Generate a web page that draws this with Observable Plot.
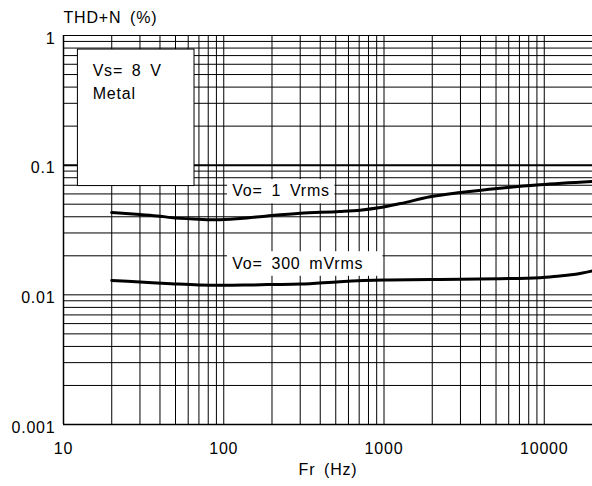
<!DOCTYPE html>
<html>
<head>
<meta charset="utf-8">
<script src="https://cdn.jsdelivr.net/npm/d3@7"></script>
<script src="https://cdn.jsdelivr.net/npm/@observablehq/plot@0.6"></script>
<style>
  html, body { margin: 0; padding: 0; background: #fff; }
  #chart svg { display: block; font-family: "Liberation Sans", Arial, sans-serif; }
</style>
</head>
<body>
<div id="chart"></div>
<script>
// Frequency (Hz) and THD+N (%)
const freq1 = [20, 30, 40, 47, 70, 90, 127, 187, 300, 530, 710, 950, 1270, 1940, 3000, 5300, 9400, 20000];
const thd1  = [0.0431, 0.0416, 0.0404, 0.0394, 0.0383, 0.0379, 0.0388, 0.0406, 0.0426, 0.0439, 0.0450, 0.0471, 0.0506, 0.0570, 0.0615, 0.0665, 0.0706, 0.0748];
const freq2 = [20, 30, 47, 70, 100, 140, 187, 300, 530, 1000, 3000, 5300, 9400, 12500, 15700, 20000];
const thd2  = [0.0129, 0.01256, 0.01219, 0.01191, 0.01183, 0.0119, 0.0120, 0.0121, 0.01263, 0.0130, 0.01318, 0.0133, 0.01355, 0.0140, 0.0144, 0.0153];

const xTicks = [10, 100, 1000, 10000];
const xTickLabels = ["10", "100", "1000", "10000"];
const yTicks = [1, 0.1, 0.01, 0.001];
const yTickLabels = ["1", "0.1", "0.01", "0.001"];
const xTitle = "Fr (Hz)";
const yTitle = "THD+N (%)";
const seriesLabels = ["Vo= 1 Vrms", "Vo= 300 mVrms"];
const legendLines = ["Vs= 8 V", "Metal"];

// grid values (1..9 per decade)
const xGrid = [];
for (const d of [10, 100, 1000, 10000]) for (let m = 1; m <= 9; m++) { const v = m * d; if (v <= 20000) xGrid.push(v); }
xGrid.push(20000);
const yGrid = [];
for (const d of [0.001, 0.01, 0.1]) for (let m = 1; m <= 9; m++) yGrid.push(m * d);
yGrid.push(1);

// annotation anchor positions (data coordinates)
const legendBox = [{x1: 12.3, x2: 65.7, y1: 0.069, y2: 0.779}];
const legendTextPos = [{x: 15.2, y: 0.53}, {x: 15.2, y: 0.356}];
const labelBoxes = [{x1: 105.5, x2: 494, y1: 0.0503, y2: 0.0773}, {x1: 105.5, x2: 985, y1: 0.0139, y2: 0.0215}];
const labelPos = [{x: 113, y: 0.0632}, {x: 113, y: 0.01733}];

const s1 = freq1.map((f, i) => ({f, v: thd1[i]}));
const s2 = freq2.map((f, i) => ({f, v: thd2[i]}));

const fontSize = 16;
const textStyle = {fontSize, fill: "#000", stroke: null};

const chart = Plot.plot({
  width: 592,
  height: 486,
  marginLeft: 63,
  marginRight: 0,
  marginTop: 35,
  marginBottom: 62,
  style: {fontFamily: "Liberation Sans, Arial, sans-serif", fontSize: "16px", letterSpacing: "0.8px", wordSpacing: "3.5px", background: "#fff"},
  x: {type: "log", domain: [10, 20000], axis: null},
  y: {type: "log", domain: [0.001, 1], axis: null},
  marks: [
    Plot.ruleX(xGrid, {x: d => d, stroke: "#000", strokeWidth: 1}),
    Plot.ruleY(yGrid, {y: d => d, stroke: "#000", strokeWidth: d => (Math.abs(d - 0.1) < 1e-9 ? 2 : 1)}),
    Plot.ruleX([10], {x: d => d, stroke: "#000", strokeWidth: 1.5}),
    Plot.ruleY([0.001], {y: d => d, stroke: "#000", strokeWidth: 1.5}),
    Plot.line(s1, {x: "f", y: "v", stroke: "#000", strokeWidth: 3, curve: "monotone-x"}),
    Plot.line(s2, {x: "f", y: "v", stroke: "#000", strokeWidth: 3, curve: "monotone-x"}),
    Plot.rect(legendBox, {x1: "x1", x2: "x2", y1: "y1", y2: "y2", fill: "#fff", stroke: "#000", strokeWidth: 1}),
    Plot.text(legendLines, {x: (d, i) => legendTextPos[i].x, y: (d, i) => legendTextPos[i].y, text: d => d, textAnchor: "start", lineAnchor: "middle", ...textStyle}),
    Plot.rect(labelBoxes, {x1: "x1", x2: "x2", y1: "y1", y2: "y2", fill: "#fff"}),
    Plot.text(seriesLabels, {x: (d, i) => labelPos[i].x, y: (d, i) => labelPos[i].y, text: d => d, textAnchor: "start", lineAnchor: "middle", ...textStyle}),
    Plot.text(xTicks, {x: d => d, text: (d, i) => xTickLabels[i], frameAnchor: "bottom", lineAnchor: "middle", dy: 24, ...textStyle}),
    Plot.text(yTicks, {y: d => d, text: (d, i) => yTickLabels[i], frameAnchor: "left", textAnchor: "end", lineAnchor: "middle", dx: -8, dy: 3, ...textStyle}),
    Plot.text([xTitle], {frameAnchor: "bottom", lineAnchor: "middle", dy: 45, ...textStyle}),
    Plot.text([yTitle], {frameAnchor: "top-left", textAnchor: "start", lineAnchor: "middle", dy: -18, ...textStyle})
  ]
});
document.getElementById("chart").appendChild(chart);
</script>
</body>
</html>
